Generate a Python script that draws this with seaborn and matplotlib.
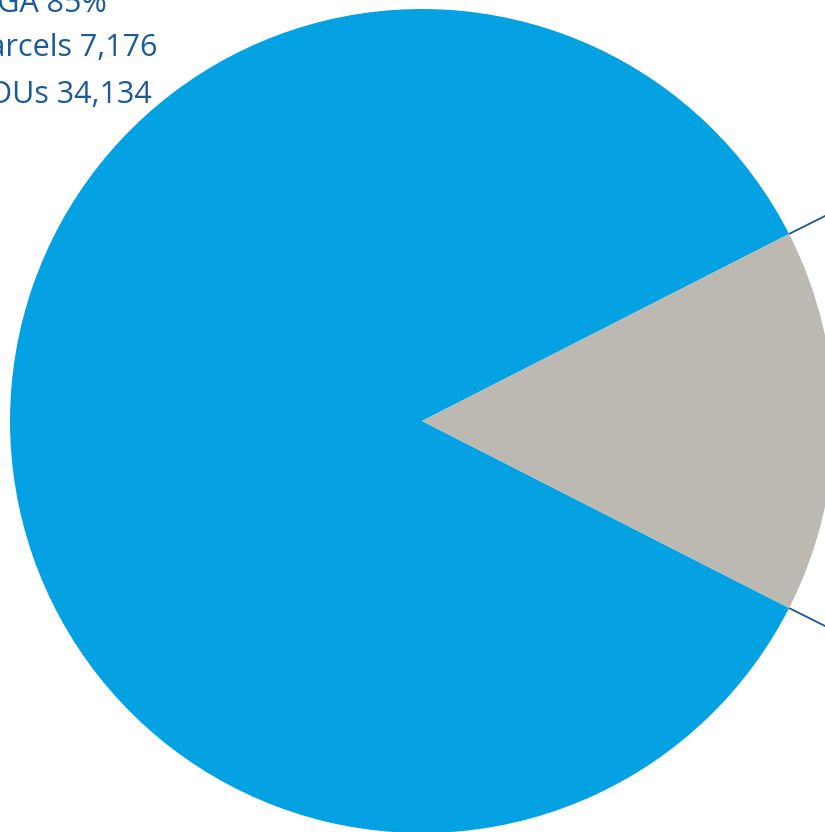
import numpy as np
import matplotlib
matplotlib.use("Agg")
import matplotlib.pyplot as plt
import seaborn as sns

# slice data
slices = ["UGA", "Other"]
shares = [85, 15]
slice_colors = ["#05A2E3", "#BCB9B3"]

# label lines (upper-left, partly cut off in the original)
label_lines = ["UGA 85%", "Parcels 7,176", "DUs 34,134"]
label_right_px = [107, 158, 152]
label_base_px = [12, 56, 103]

sns.set_theme(style="white")
plt.rcParams["font.family"] = ["Open Sans", "DejaVu Sans"]

W, H = 825, 832
fig = plt.figure(figsize=(W / 100, H / 100), dpi=100)

cx, cy, r = 422, 421, 412
ax = fig.add_axes([(cx - r) / W, (H - cy - r) / H, 2 * r / W, 2 * r / H])
ax.set_aspect("equal")
ax.axis("off")

gray_span = 360 * shares[1] / sum(shares)
start = gray_span / 2
wedges, _ = ax.pie(shares, colors=slice_colors, startangle=start,
                   radius=1, center=(0, 0), frame=False,
                   wedgeprops=dict(linewidth=0))
ax.set_xlim(-1, 1)
ax.set_ylim(-1, 1)

# connector lines from the gray wedge toward the (off-canvas) secondary chart
for sign in (1, -1):
    a = np.deg2rad(sign * gray_span / 2)
    x0, y0 = np.cos(a), np.sin(a)
    ax.plot([x0, x0 + 0.3], [y0, y0 + sign * 0.15], color="#1A5796",
            lw=1.3, clip_on=False, solid_capstyle="butt")

# labels in the upper-left
for txt, xr, yb in zip(label_lines, label_right_px, label_base_px):
    fig.text(xr / W, 1 - yb / H, txt, ha="right", va="baseline",
             fontsize=22, color="#1B5A98")

fig.savefig("out.png", dpi=100)
